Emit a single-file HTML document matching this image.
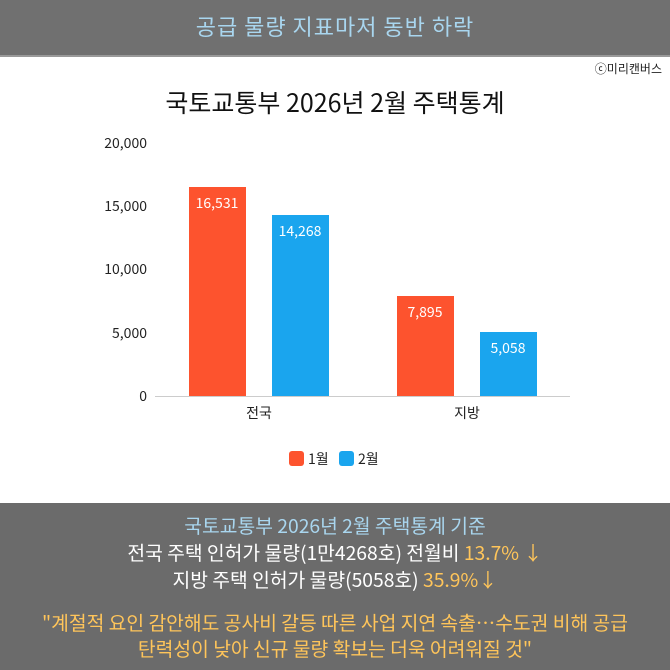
<!DOCTYPE html>
<html><head><meta charset="utf-8"><style>
body{margin:0;width:670px;height:670px;overflow:hidden;background:#fff;font-family:"Noto Sans CJK KR","Liberation Sans",sans-serif;position:relative}
.top{position:absolute;left:0;top:0;width:670px;height:55px;background:#707070;border-bottom:2px solid #999;color:#a9d6ef;font-size:22px;text-align:center;line-height:52px;letter-spacing:1px}
.bot{position:absolute;left:0;top:503px;width:670px;height:167px;background:#6b6b6b;text-align:center;font-size:19.3px;color:#fff;line-height:26px}
.bot div{position:absolute;left:0;width:670px}
.y{color:#ffc55a}
</style></head><body>
<div class="top">공급 물량 지표마저 동반 하락</div>
<div style="position:absolute;right:8px;top:60px;font-size:12px;color:#222">ⓒ미리캔버스</div>
<div style="position:absolute;left:0;width:670px;top:84px;text-align:center;font-size:25px;line-height:36px;color:#111">국토교통부 2026년 2월 주택통계</div>
<svg width="670" height="670" style="position:absolute;left:0;top:0" font-family="Noto Sans CJK KR, Liberation Sans, sans-serif">
<g font-size="14" fill="#222" text-anchor="end">
<text x="147" y="148">20,000</text><text x="147" y="211">15,000</text><text x="147" y="274">10,000</text><text x="147" y="338">5,000</text><text x="147" y="401">0</text>
</g>
<line x1="155" y1="396.5" x2="570" y2="396.5" stroke="#ccc"/>
<rect x="189" y="187" width="57" height="209" fill="#fd532e"/>
<rect x="272" y="215" width="57" height="181" fill="#1aa5ee"/>
<rect x="397" y="296" width="57" height="100" fill="#fd532e"/>
<rect x="480" y="332" width="57" height="64" fill="#1aa5ee"/>
<g font-size="14" fill="#fff" text-anchor="middle">
<text x="217" y="208">16,531</text><text x="300" y="236">14,268</text><text x="425" y="317">7,895</text><text x="508" y="353">5,058</text>
</g>
<g font-size="14" fill="#222" text-anchor="middle"><text x="259" y="418">전국</text><text x="467" y="418">지방</text></g>
<rect x="289" y="451" width="15" height="15" rx="3" fill="#fd532e"/><text x="308" y="464" font-size="14" fill="#222">1월</text>
<rect x="339" y="451" width="15" height="15" rx="3" fill="#1aa5ee"/><text x="358" y="464" font-size="14" fill="#222">2월</text>
</svg>
<div class="bot">
<div style="top:9px;color:#a9d6ef">국토교통부 2026년 2월 주택통계 기준</div>
<div style="top:36px">전국 주택 인허가 물량(1만4268호) 전월비 <span class="y">13.7% ↓</span></div>
<div style="top:63px">지방 주택 인허가 물량(5058호) <span class="y">35.9%↓</span></div>
<div style="top:106px" class="y">"계절적 요인 감안해도 공사비 갈등 따른 사업 지연 속출…수도권 비해 공급</div>
<div style="top:132px" class="y">탄력성이 낮아 신규 물량 확보는 더욱 어려워질 것"</div>
</div>
</body></html>
